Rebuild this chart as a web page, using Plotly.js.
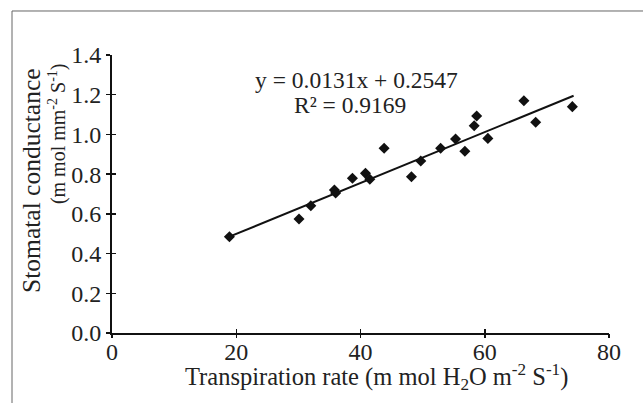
<!DOCTYPE html>
<html>
<head>
<meta charset="utf-8">
<script src="https://cdn.plot.ly/plotly-3.0.1.min.js"></script>
<style>html,body{margin:0;padding:0;background:#fff;}#chart{width:643px;height:403px;}</style>
</head>
<body>
<div id="chart"></div>
<script>
// Data
const transpiration = [18.9, 30.1, 32.0, 35.8, 36.0, 38.7, 40.8, 41.5, 43.8, 48.2, 49.7, 52.9, 55.3, 56.8, 58.3, 58.7, 60.5, 66.3, 68.2, 74.1];
const conductance   = [0.485, 0.574, 0.641, 0.720, 0.705, 0.779, 0.804, 0.774, 0.930, 0.787, 0.866, 0.930, 0.977, 0.915, 1.044, 1.093, 0.980, 1.170, 1.061, 1.140];
const trendX = [18.9, 74.3];
const trendY = [0.485, 1.195];
const xTicks = [0, 20, 40, 60, 80];
const yTicks = [0.0, 0.2, 0.4, 0.6, 0.8, 1.0, 1.2, 1.4];
const yTickText = yTicks.map(v => v.toFixed(1));
const equationText = "y = 0.0131x + 0.2547";
const r2Text = "R² = 0.9169";
const xTitle = "Transpiration rate (m mol H<sub>2</sub>O m<sup>-2</sup> S<sup>-1</sup>)";
const yTitle1 = "Stomatal conductance";
const yTitle2 = "(m mol mm<sup>-2</sup> S<sup>-1</sup>)";

const FONT = "'Liberation Serif', 'Times New Roman', serif";
const INK = "#222";

const traces = [
  {x: trendX, y: trendY, mode: 'lines', line: {color: '#111', width: 2}, hoverinfo: 'skip', showlegend: false},
  {x: transpiration, y: conductance, mode: 'markers', marker: {symbol: 'diamond', size: 8.5, color: '#111'}, showlegend: false},
  {x: [0], y: [0], xaxis: 'x2', yaxis: 'y2', mode: 'markers', marker: {opacity: 0}, hoverinfo: 'skip', showlegend: false}
];

const axBase = {showgrid: false, zeroline: false, fixedrange: true};
const layout = {
  width: 643, height: 403,
  margin: {l: 112, r: 34, t: 55, b: 70},
  paper_bgcolor: '#fff', plot_bgcolor: '#fff',
  font: {family: FONT, color: INK, size: 24},
  showlegend: false,
  xaxis: Object.assign({}, axBase, {range: [0, 80], tickvals: xTicks, ticktext: xTicks.map(String),
    showline: true, linecolor: '#111', linewidth: 2, ticks: 'inside', ticklen: 4, tickwidth: 1.5, tickcolor: '#111',
    ticklabelstandoff: -4,
    tickfont: {family: FONT, size: 24, color: INK}}),
  yaxis: Object.assign({}, axBase, {range: [0, 1.4], tickvals: yTicks, ticktext: yTickText,
    showline: true, linecolor: '#111', linewidth: 2, ticks: 'outside', ticklen: 4, tickwidth: 1.5, tickcolor: '#111',
    tickfont: {family: FONT, size: 24, color: INK}}),
  xaxis2: Object.assign({}, axBase, {range: [0, 80], tickvals: xTicks, overlaying: 'x', anchor: 'y2', side: 'bottom',
    showticklabels: false, showline: false, ticks: 'outside', ticklen: 4, tickwidth: 1.5, tickcolor: '#111'}),
  yaxis2: Object.assign({}, axBase, {range: [0, 1.4], tickvals: yTicks, overlaying: 'y', anchor: 'x2', side: 'left',
    showticklabels: false, showline: false, ticks: 'inside', ticklen: 4, tickwidth: 1.5, tickcolor: '#111'}),
  annotations: [
    {text: equationText, xref: 'x', yref: 'y', x: 39.4, y: 1.274, showarrow: false, xanchor: 'center', yanchor: 'middle',
     font: {family: FONT, size: 23.5, color: INK}},
    {text: r2Text, xref: 'x', yref: 'y', x: 38.3, y: 1.148, showarrow: false, xanchor: 'center', yanchor: 'middle',
     font: {family: FONT, size: 23.5, color: INK}},
    {text: xTitle, xref: 'paper', yref: 'paper', x: 0.533, y: -0.16, showarrow: false, xanchor: 'center', yanchor: 'middle',
     font: {family: FONT, size: 24.5, color: INK}},
    {text: yTitle1, xref: 'paper', yref: 'paper', x: -0.161, y: 0.547, showarrow: false, textangle: -90, xanchor: 'center', yanchor: 'middle',
     font: {family: FONT, size: 25.5, color: INK}},
    {text: yTitle2, xref: 'paper', yref: 'paper', x: -0.1107, y: 0.719, showarrow: false, textangle: -90, xanchor: 'center', yanchor: 'middle',
     font: {family: FONT, size: 20, color: INK}}
  ],
  shapes: [
    {type: 'line', xref: 'paper', yref: 'paper', x0: -0.2012, x1: 1.07, y0: 1.1583, y1: 1.1583, line: {color: '#666', width: 1}},
    {type: 'line', xref: 'paper', yref: 'paper', x0: -0.2012, x1: -0.2012, y0: 1.1583, y1: -0.26, line: {color: '#666', width: 1}}
  ]
};

Plotly.newPlot('chart', traces, layout, {displayModeBar: false, staticPlot: true});
</script>
</body>
</html>
